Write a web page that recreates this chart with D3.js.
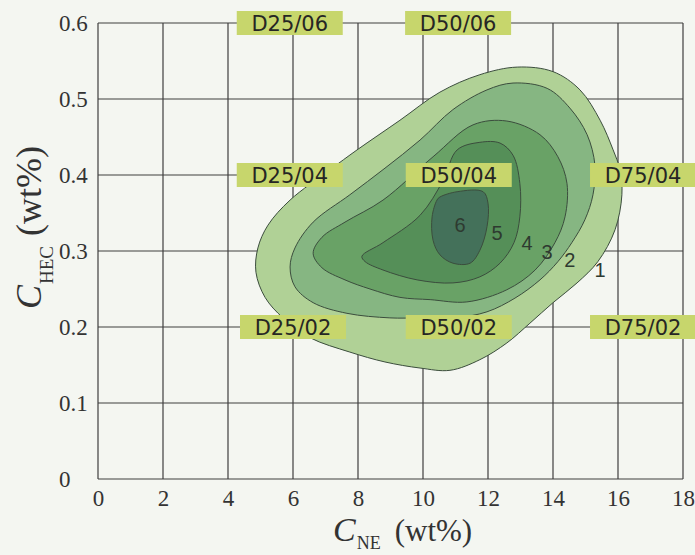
<!DOCTYPE html>
<html>
<head>
<meta charset="utf-8">
<script src="https://cdn.jsdelivr.net/npm/d3@7"></script>
<style>
  html, body { margin: 0; padding: 0; background: #f4f6f1; }
  svg { display: block; }
</style>
</head>
<body>
<svg id="chart" width="695" height="555"></svg>
<script>
// ---------- data ----------
const xTicks = [0, 2, 4, 6, 8, 10, 12, 14, 16, 18];
const yTicks = [0, 0.1, 0.2, 0.3, 0.4, 0.5, 0.6];
const yTickLabels = ["0", "0.1", "0.2", "0.3", "0.4", "0.5", "0.6"];

// contour levels (closed outlines, [C_NE, C_HEC]) from outermost to innermost
const contourLevel2 = [[12.9,0.542],[14.0,0.536],[14.83,0.512],[15.45,0.472],[15.85,0.433],[16.06,0.407],[16.12,0.374],[15.91,0.328],[15.38,0.286],[14.74,0.258],[14.0,0.232],[13.29,0.205],[12.58,0.179],[11.75,0.157],[10.83,0.143],[9.91,0.146],[8.83,0.154],[7.75,0.167],[6.52,0.186],[5.69,0.212],[5.14,0.239],[4.86,0.272],[4.92,0.304],[5.23,0.334],[5.91,0.367],[7.14,0.407],[7.97,0.433],[9.29,0.472],[10.52,0.509],[11.75,0.532]];
const contourLevel3 = [[15.23,0.374],[14.98,0.341],[14.58,0.311],[14.15,0.286],[13.6,0.262],[12.83,0.238],[11.97,0.22],[10.98,0.212],[9.91,0.212],[8.98,0.212],[7.66,0.218],[6.62,0.232],[6.06,0.253],[5.91,0.279],[6.06,0.304],[6.62,0.338],[7.75,0.374],[8.83,0.409],[9.91,0.446],[10.92,0.486],[11.97,0.512],[12.77,0.521],[13.82,0.514],[14.52,0.488],[15.05,0.453],[15.29,0.413]];
const contourLevel4 = [[6.62,0.297],[6.89,0.318],[7.6,0.338],[8.77,0.367],[10.31,0.424],[11.54,0.466],[12.58,0.471],[13.6,0.453],[14.15,0.424],[14.43,0.389],[14.37,0.345],[14.06,0.311],[13.45,0.275],[12.58,0.249],[11.35,0.233],[10.22,0.236],[9.29,0.239],[8.37,0.25],[7.6,0.262],[6.89,0.278]];
const contourLevel5 = [[8.12,0.293],[8.77,0.311],[9.91,0.347],[10.62,0.393],[11.05,0.433],[11.75,0.443],[12.37,0.442],[12.77,0.426],[12.98,0.389],[12.98,0.345],[12.8,0.311],[12.37,0.284],[11.75,0.266],[10.92,0.258],[9.82,0.262],[8.77,0.275],[8.22,0.286]];
const contourLevel6 = [[10.52,0.371],[11.05,0.378],[11.85,0.378],[12.0,0.363],[11.97,0.332],[11.75,0.301],[11.45,0.284],[10.92,0.284],[10.52,0.295],[10.31,0.314],[10.28,0.345],[10.43,0.367]];
const contours = [contourLevel2, contourLevel3, contourLevel4, contourLevel5, contourLevel6];

const levelLabels = ["1", "2", "3", "4", "5", "6"];
const levelLabelX = [15.45, 14.52, 13.82, 13.2, 12.28, 11.14];
const levelLabelY = [0.275, 0.288, 0.299, 0.311, 0.324, 0.334];

const sampleNames = ["D25/06", "D50/06", "D25/04", "D50/04", "D75/04", "D25/02", "D50/02", "D75/02"];
const sampleX = [5.9, 11.08, 5.9, 11.1, 16.77, 6.0, 11.1, 16.77];
const sampleY = [0.6, 0.6, 0.4, 0.4, 0.4, 0.2, 0.2, 0.2];

// ---------- drawing ----------
const svg = d3.select("#chart");
const x = d3.scaleLinear().domain([0, 18]).range([98, 683]);
const y = d3.scaleLinear().domain([0, 0.6]).range([479, 23]);

const fills = ["#b0d196", "#86b682", "#69a266", "#558f58", "#44715a"];

// grid
const grid = svg.append("g").attr("stroke", "#3f3f3f").attr("stroke-width", 1.2);
grid.selectAll("line.v").data(xTicks).join("line")
  .attr("x1", d => x(d)).attr("x2", d => x(d))
  .attr("y1", y(0)).attr("y2", y(0.6));
grid.selectAll("line.h").data(yTicks).join("line")
  .attr("x1", x(0)).attr("x2", x(18))
  .attr("y1", d => y(d)).attr("y2", d => y(d));

// contours
const line = d3.line().x(d => x(d[0])).y(d => y(d[1])).curve(d3.curveCatmullRomClosed.alpha(0.5));
svg.append("g").selectAll("path").data(contours).join("path")
  .attr("d", d => line(d))
  .attr("fill", (d, i) => fills[i])
  .attr("stroke", "#3b4d3d")
  .attr("stroke-width", 1);

// level labels
svg.append("g").selectAll("text").data(levelLabels).join("text")
  .attr("x", (d, i) => x(levelLabelX[i]))
  .attr("y", (d, i) => y(levelLabelY[i]))
  .attr("dy", "0.36em")
  .attr("text-anchor", "middle")
  .attr("font-family", "'Liberation Sans', Arial, sans-serif")
  .attr("font-size", 20)
  .attr("fill", "#2e3a30")
  .text(d => d);

// sample boxes
const boxes = svg.append("g").selectAll("g").data(sampleNames).join("g")
  .attr("transform", (d, i) => `translate(${x(sampleX[i])},${y(sampleY[i])})`);
boxes.append("rect")
  .attr("x", -53).attr("y", -12).attr("width", 106).attr("height", 24)
  .attr("fill", "#c7d66c");
boxes.append("text")
  .attr("text-anchor", "middle").attr("dy", "0.36em")
  .attr("font-family", "'DejaVu Sans', sans-serif")
  .attr("font-size", 21)
  .attr("fill", "#262624")
  .text(d => d);

// axes tick labels
const xAxis = d3.axisBottom(x).tickValues(xTicks).tickSize(0).tickPadding(11).tickFormat(d3.format("d"));
const gx = svg.append("g").attr("transform", `translate(0,${y(0)})`).call(xAxis);
gx.select(".domain").remove();
gx.selectAll("text").attr("font-family", "'Liberation Serif', 'Times New Roman', serif")
  .attr("font-size", 23).attr("fill", "#333");

const yAxis = d3.axisLeft(y).tickValues(yTicks).tickSize(0).tickFormat((d, i) => yTickLabels[i]);
const gy = svg.append("g").attr("transform", `translate(${x(0)},0)`).call(yAxis);
gy.select(".domain").remove();
gy.selectAll("text").attr("font-family", "'Liberation Serif', 'Times New Roman', serif")
  .attr("font-size", 23).attr("fill", "#333")
  .attr("text-anchor", "start").attr("x", -39);

// axis titles
const xt = svg.append("text").attr("x", 333).attr("y", 541)
  .attr("font-family", "'Liberation Serif', 'Times New Roman', serif").attr("fill", "#333");
xt.append("tspan").attr("font-style", "italic").attr("font-size", 34).text("C");
xt.append("tspan").attr("font-size", 18).attr("dy", 8).attr("dx", 1).text("NE");
xt.append("tspan").attr("font-size", 31).attr("dy", -8).attr("dx", 14).text("(wt%)");

const yt = svg.append("text").attr("transform", "translate(41,309) rotate(-90)")
  .attr("font-family", "'Liberation Serif', 'Times New Roman', serif").attr("fill", "#333");
yt.append("tspan").attr("font-style", "italic").attr("font-size", 36).text("C");
yt.append("tspan").attr("font-size", 19).attr("dy", 12).attr("dx", 1).text("HEC");
yt.append("tspan").attr("font-size", 36).attr("dy", -12).attr("dx", 10).text("(wt%)");
</script>
</body>
</html>
